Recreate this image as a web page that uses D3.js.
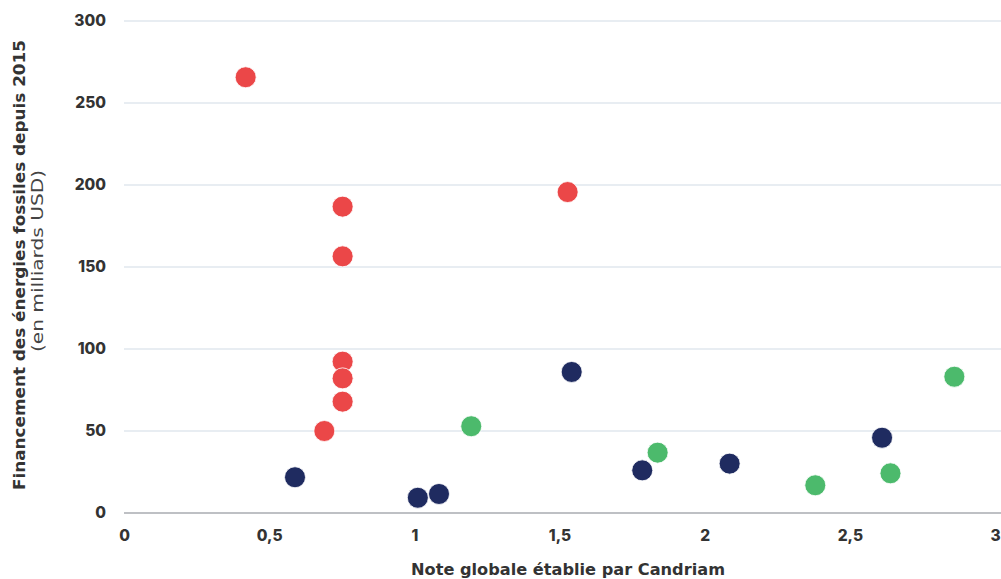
<!DOCTYPE html>
<html><head><meta charset="utf-8">
<script src="https://cdn.jsdelivr.net/npm/d3@7"></script>
<style>
html,body{margin:0;padding:0;background:#fff;}
svg text{font-family:Inter, "Open Sans", sans-serif;}
</style></head>
<body>
<svg id="c" width="1001" height="579"></svg>
<script>
const redX = [0.419, 0.753, 0.753, 0.753, 0.753, 0.753, 0.690, 1.528];
const redY = [265.7, 186.8, 156.5, 92.3, 82.1, 67.9, 50.0, 195.7];
const navyX = [0.589, 1.012, 1.085, 1.542, 1.785, 2.086, 2.611];
const navyY = [21.8, 9.3, 11.6, 86.0, 26.0, 30.1, 45.9];
const greenX = [1.196, 1.838, 2.381, 2.640, 2.860];
const greenY = [52.9, 36.8, 16.9, 24.2, 83.1];
const xTicks = [0, 0.5, 1, 1.5, 2, 2.5, 3];
const xTickLabels = ["0", "0,5", "1", "1,5", "2", "2,5", "3"];
const yTicks = [0, 50, 100, 150, 200, 250, 300];
const xTitle = "Note globale établie par Candriam";
const yTitle1 = "Financement des énergies fossiles depuis 2015";
const yTitle2 = "(en milliards USD)";

const series = [
  {x: redX, y: redY, color: "#eb4748"},
  {x: navyX, y: navyY, color: "#1f2b60"},
  {x: greenX, y: greenY, color: "#4cba6c"}
];

const svg = d3.select("#c");
const x = d3.scaleLinear().domain([0, 3]).range([124, 995]);
const y = d3.scaleLinear().domain([0, 300]).range([513, 21]);

// gridlines
svg.append("g").selectAll("line").data(yTicks.filter(d => d > 0)).join("line")
  .attr("x1", 124).attr("x2", 1001)
  .attr("y1", d => y(d)).attr("y2", d => y(d))
  .attr("stroke", "#e1e7ee").attr("stroke-width", 1.5);

// baseline
svg.append("line").attr("x1", 124).attr("x2", 1001)
  .attr("y1", y(0)).attr("y2", y(0))
  .attr("stroke", "#a8abb0").attr("stroke-width", 1.5);

// y tick labels
const yAxis = d3.axisLeft(y).tickValues(yTicks).tickSize(0).tickPadding(18);
const gy = svg.append("g").attr("transform", "translate(124,0)").call(yAxis);
gy.select(".domain").remove();
gy.selectAll("text").attr("font-size", 15.5).attr("font-weight", 800).attr("fill", "#333");

// x tick labels
const xAxis = d3.axisBottom(x).tickValues(xTicks).tickFormat((d, i) => xTickLabels[i]).tickSize(0).tickPadding(17);
const gx = svg.append("g").attr("transform", `translate(0,${y(0)})`).call(xAxis);
gx.select(".domain").remove();
gx.selectAll("text").attr("font-size", 15.5).attr("font-weight", 800).attr("fill", "#333");

// points
series.forEach(s => {
  svg.append("g").selectAll("circle").data(s.x.map((v, i) => [v, s.y[i]])).join("circle")
    .attr("cx", d => x(d[0])).attr("cy", d => y(d[1])).attr("r", 10.5)
    .attr("fill", s.color).attr("stroke", "#fff").attr("stroke-width", 0.8);
});

// titles
svg.append("text").attr("x", 568).attr("y", 575).attr("text-anchor", "middle")
  .style("font-family", "'DejaVu Sans', sans-serif")
  .attr("font-size", 15).attr("font-weight", 700).attr("fill", "#333")
  .attr("textLength", 314).attr("lengthAdjust", "spacingAndGlyphs").text(xTitle);

svg.append("text").attr("transform", "translate(25,265) rotate(-90)").attr("text-anchor", "middle")
  .style("font-family", "'DejaVu Sans', sans-serif")
  .attr("font-size", 15).attr("font-weight", 700).attr("fill", "#333")
  .attr("textLength", 450).attr("lengthAdjust", "spacingAndGlyphs").text(yTitle1);
svg.append("text").attr("transform", "translate(43,261) rotate(-90)").attr("text-anchor", "middle")
  .style("font-family", "'DejaVu Sans', sans-serif")
  .attr("font-size", 15).attr("font-weight", 400).attr("fill", "#444")
  .attr("textLength", 182).attr("lengthAdjust", "spacingAndGlyphs").text(yTitle2);
</script>
</body></html>
